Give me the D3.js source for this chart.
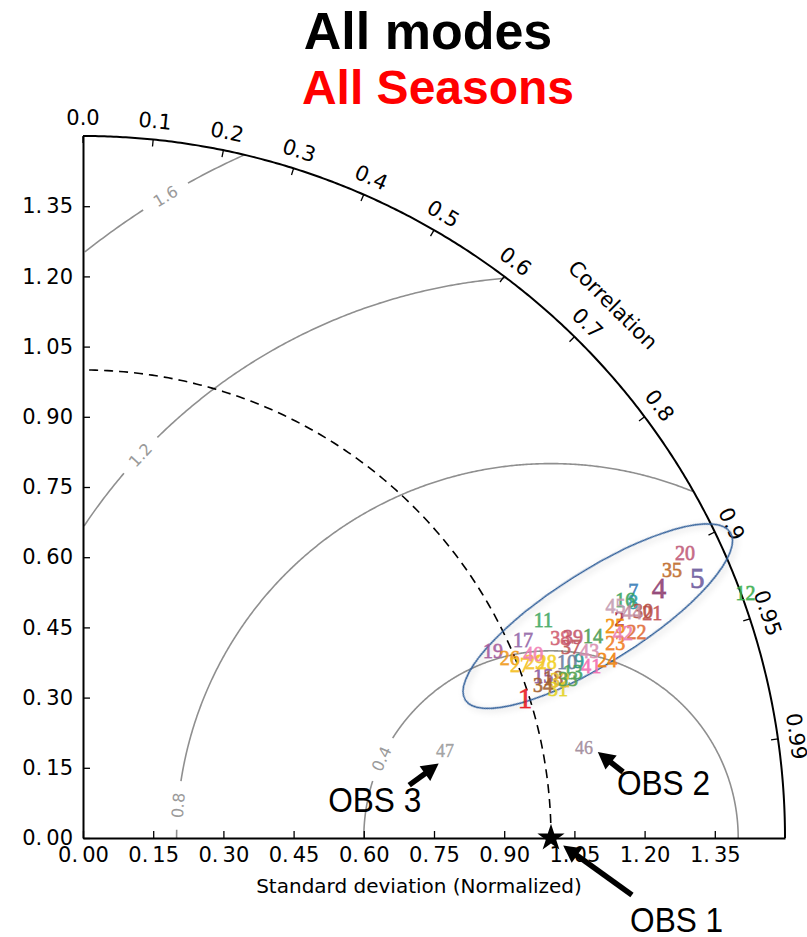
<!DOCTYPE html>
<html>
<head>
<meta charset="utf-8">
<script src="https://cdn.jsdelivr.net/npm/d3@7"></script>
<style>
  body { margin: 0; background: #fff; }
</style>
</head>
<body>
<svg id="chart" width="807" height="937" font-family="DejaVu Sans, sans-serif"></svg>
<script>
// ---- data ----
const stdTicks = [0, 0.15, 0.30, 0.45, 0.60, 0.75, 0.90, 1.05, 1.20, 1.35];
const corrTicks = [0, 0.1, 0.2, 0.3, 0.4, 0.5, 0.6, 0.7, 0.8, 0.9, 0.95, 0.99];
const corrTickLabels = ["0.0", "0.1", "0.2", "0.3", "0.4", "0.5", "0.6", "0.7", "0.8", "0.9", "0.95", "0.99"];
const rmsLevels = [0.4, 0.8, 1.2, 1.6];
const rmsLabels = ["0.4", "0.8", "1.2", "1.6"];

// model runs: id, normalized standard deviation, correlation with OBS 1
const modelIds  = [1, 2, 4, 5, 7, 8, 9, 10, 11, 12, 13, 14, 15, 16, 17, 18, 19, 20, 21, 22, 23, 24,
                   25, 26, 27, 28, 29, 30, 31, 32, 33, 34, 35, 37, 38, 39, 40, 41, 42, 43, 44, 45];
const modelStd  = [0.991, 1.238, 1.342, 1.425, 1.289, 1.279, 1.125, 1.100, 1.088, 1.509, 1.105, 1.172,
                   1.043, 1.265, 1.031, 1.061, 0.963, 1.423, 1.308, 1.262, 1.211, 1.183, 1.224, 0.990,
                   1.004, 1.060, 1.036, 1.291, 1.064, 1.074, 1.091, 1.036, 1.383, 1.120, 1.106, 1.132,
                   1.039, 1.147, 1.234, 1.153, 1.269, 1.241];
const modelCorr = [0.953, 0.926, 0.917, 0.921, 0.912, 0.919, 0.942, 0.940, 0.904, 0.938, 0.947, 0.930,
                   0.943, 0.916, 0.912, 0.947, 0.910, 0.904, 0.930, 0.937, 0.939, 0.947, 0.929, 0.921,
                   0.930, 0.935, 0.932, 0.927, 0.954, 0.949, 0.950, 0.949, 0.910, 0.931, 0.922, 0.925,
                   0.926, 0.947, 0.935, 0.938, 0.925, 0.917];

// other observational datasets compared with OBS 1
const obsIds  = [46, 47];
const obsStd  = [1.088, 0.796];
const obsCorr = [0.984, 0.972];

// ---- styles ----
const modelColors = {
  1: "#e8141e", 2: "#a3203c", 4: "#8c3a6e", 5: "#6b5a9c", 7: "#3a7db8", 8: "#2a98a4", 9: "#25918a",
  10: "#6b7c9c", 11: "#43a862", 12: "#38ad4c", 13: "#3ea35e", 14: "#4c9c52", 15: "#8a5aa0",
  16: "#3aa560", 17: "#9468a8", 18: "#a0563a", 19: "#a45a9c", 20: "#c05a78", 21: "#c24e4e",
  22: "#e06a36", 23: "#f07c1e", 24: "#f08006", 25: "#f28c00", 26: "#f09a1a", 27: "#f4be1e",
  28: "#f2d01e", 29: "#f4c42a", 30: "#b44c40", 31: "#e4d21e", 32: "#eac22e", 33: "#56a04e",
  34: "#a2602e", 35: "#c06c2c", 37: "#c0585a", 38: "#d05e70", 39: "#c4566a", 40: "#f27eb4",
  41: "#f26cb0", 42: "#ea7eb2", 43: "#d88eb0", 44: "#c28ea2", 45: "#c49cb2",
  46: "#a08898", 47: "#9a9a9a"
};
const largeIds = new Set([1, 4, 5]);
const sansFont = "Liberation Sans, Arial, sans-serif";
const serifFont = "Liberation Serif, serif";

// ---- geometry ----
const svg = d3.select("#chart");
const x = d3.scaleLinear().domain([0, 1.5]).range([83, 785]);
const y = d3.scaleLinear().domain([0, 1.5]).range([838, 136]);
const pxPerUnit = x(1) - x(0);
const toXY = (s, c) => [s * c, s * Math.sqrt(Math.max(0, 1 - c * c))];
const maxStd = 1.5;

// ---- centred RMS difference contours ----
const rmsLabelAngle = {0.4: 155, 0.8: 175, 1.2: 137, 1.6: 121};
const gapPx = 46;
const line = d3.line().x(d => x(d[0])).y(d => y(d[1]));
const contourG = svg.append("g");
rmsLevels.forEach((r, i) => {
  const la = rmsLabelAngle[r] * Math.PI / 180;
  const gap = gapPx / (r * pxPerUnit);
  const segs = [[]];
  for (let a = 0; a <= Math.PI + 1e-9; a += Math.PI / 720) {
    const px = 1 + r * Math.cos(a), py = r * Math.sin(a);
    const inside = px >= 0 && Math.hypot(px, py) <= maxStd && Math.abs(a - la) > gap / 2;
    if (inside) segs[segs.length - 1].push([px, py]);
    else if (segs[segs.length - 1].length) segs.push([]);
  }
  segs.filter(s => s.length > 1).forEach(s => {
    contourG.append("path").attr("d", line(s))
      .attr("fill", "none").attr("stroke", "#8f8f8f").attr("stroke-width", 1.6);
  });
  const lx = x(1 + r * Math.cos(la)), ly = y(r * Math.sin(la));
  contourG.append("text")
    .attr("transform", `translate(${lx},${ly}) rotate(${90 - rmsLabelAngle[r]})`)
    .attr("text-anchor", "middle").attr("dy", "0.36em")
    .attr("font-size", 16).attr("fill", "#9a9a9a")
    .text(rmsLabels[i]);
});

// ---- reference standard deviation (dashed) ----
const refArc = d3.range(0, 90.01, 0.5).map(d => toXY(1, Math.cos(d * Math.PI / 180)));
svg.append("path").attr("d", line(refArc))
  .attr("fill", "none").attr("stroke", "#000").attr("stroke-width", 1.6)
  .attr("stroke-dasharray", "9,6");

// ---- standard deviation axes ----
const xAxis = svg.append("g").attr("transform", `translate(0,${y(0)})`)
  .call(d3.axisBottom(x).tickValues(stdTicks).tickSizeInner(-7).tickSizeOuter(0)
    .tickPadding(9).tickFormat(d3.format(".2f")));
const yAxis = svg.append("g").attr("transform", `translate(${x(0)},0)`)
  .call(d3.axisLeft(y).tickValues(stdTicks).tickSizeInner(-7).tickSizeOuter(0)
    .tickPadding(10).tickFormat(d3.format(".2f")));
[xAxis, yAxis].forEach(g => {
  g.attr("font-family", "DejaVu Sans, sans-serif");
  g.select(".domain").attr("stroke", "#000").attr("stroke-width", 2);
  g.selectAll(".tick line").attr("stroke", "#000").attr("stroke-width", 1.3);
  g.selectAll(".tick text").attr("font-size", 21).attr("fill", "#000")
    .each(function (d) {
      const t = d3.select(this), s = d3.format(".2f")(d).split(".");
      t.text(null);
      t.append("tspan").text(s[0] + ".");
      t.append("tspan").attr("dx", 4).text(s[1]);
    });
});

// ---- correlation arc ----
const outer = d3.range(0, 90.01, 0.25).map(d => toXY(maxStd, Math.cos(d * Math.PI / 180)));
svg.append("path").attr("d", line(outer))
  .attr("fill", "none").attr("stroke", "#000").attr("stroke-width", 2);
const corrG = svg.append("g");
corrTicks.forEach((c, i) => {
  const th = Math.acos(c);
  const [ox, oy] = toXY(maxStd, c);
  const R = maxStd * pxPerUnit;
  const ux = Math.cos(th), uy = -Math.sin(th);
  corrG.append("line")
    .attr("x1", x(ox)).attr("y1", y(oy))
    .attr("x2", x(ox) - 7 * ux).attr("y2", y(oy) - 7 * uy)
    .attr("stroke", "#000").attr("stroke-width", 1.3);
  const lr = R + 19;
  corrG.append("text")
    .attr("transform", `translate(${x(0) + lr * ux},${y(0) + lr * uy}) rotate(${90 - th * 180 / Math.PI})`)
    .attr("text-anchor", "middle").attr("dy", "0.36em")
    .attr("font-size", 21).attr("fill", "#000")
    .text(corrTickLabels[i]);
});
{
  const th = Math.acos(0.705);
  const lr = maxStd * pxPerUnit + 50;
  corrG.append("text")
    .attr("transform", `translate(${x(0) + lr * Math.cos(th)},${y(0) - lr * Math.sin(th)}) rotate(${90 - th * 180 / Math.PI})`)
    .attr("text-anchor", "middle").attr("dy", "0.36em")
    .attr("font-size", 21).attr("fill", "#000")
    .text("Correlation");
}

svg.append("text").attr("x", 419).attr("y", 893)
  .attr("text-anchor", "middle").attr("font-size", 20).attr("fill", "#000")
  .text("Standard deviation (Normalized)");

// ---- highlighted cluster of model runs ----
const cluster = [{cx: 1.100, cy: 0.474, a: 0.335, b: 0.098, tilt: 32.3}];
const defs = svg.append("defs");
const f = defs.append("filter").attr("id", "soft").attr("x", "-20%").attr("y", "-20%")
  .attr("width", "140%").attr("height", "140%");
f.append("feDropShadow").attr("dx", 1.5).attr("dy", 3).attr("stdDeviation", 3)
  .attr("flood-color", "#000").attr("flood-opacity", 0.22);
svg.append("g").selectAll("ellipse").data(cluster).join("ellipse")
  .attr("transform", d => `translate(${x(d.cx)},${y(d.cy)}) rotate(${-d.tilt})`)
  .attr("rx", d => d.a * pxPerUnit).attr("ry", d => d.b * pxPerUnit)
  .attr("fill", "none").attr("stroke", "#2f5d98").attr("stroke-width", 1.5)
  .attr("filter", "url(#soft)");

// ---- model and observation markers ----
const points = modelIds.map((id, i) => ({id, s: modelStd[i], c: modelCorr[i]}))
  .concat(obsIds.map((id, i) => ({id, s: obsStd[i], c: obsCorr[i]})));
svg.append("g").attr("font-family", serifFont)
  .selectAll("text").data(points).join("text")
  .attr("x", d => x(toXY(d.s, d.c)[0]))
  .attr("y", d => y(toXY(d.s, d.c)[1]))
  .attr("dy", "0.35em").attr("text-anchor", "middle")
  .attr("font-size", d => largeIds.has(d.id) ? 29 : (d.id >= 46 ? 18 : 20))
  .attr("fill", d => modelColors[d.id])
  .attr("fill-opacity", d => d.id >= 46 ? 0.9 : 0.85)
  .attr("stroke", d => modelColors[d.id]).attr("stroke-width", d => d.id >= 46 ? 0.5 : 0.9)
  .attr("stroke-opacity", 0.7)
  .text(d => d.id);

// reference observation (OBS 1)
svg.append("path")
  .attr("transform", `translate(${x(1)},${y(0)})`)
  .attr("d", d3.symbol(d3.symbolStar, 230)())
  .attr("fill", "#000");

// ---- annotations ----
const notes = [
  {label: "OBS 1", tx: 1.169, ty: -0.201, x0: 1.173, y0: -0.122, x1: 1.026, y1: -0.016},
  {label: "OBS 2", tx: 1.141, ty: 0.092, x0: 1.154, y0: 0.141, x1: 1.100, y1: 0.184},
  {label: "OBS 3", tx: 0.524, ty: 0.056, x0: 0.697, y0: 0.113, x1: 0.760, y1: 0.159}
];
const noteG = svg.append("g").attr("font-family", sansFont);
notes.forEach(n => {
  const ax = x(n.x0), ay = y(n.y0), bx = x(n.x1), by = y(n.y1);
  const len = Math.hypot(bx - ax, by - ay), ux = (bx - ax) / len, uy = (by - ay) / len;
  const hl = 17, hw = 9;
  const sx = bx - ux * hl, sy = by - uy * hl;
  noteG.append("line").attr("x1", ax).attr("y1", ay).attr("x2", sx + ux * 2).attr("y2", sy + uy * 2)
    .attr("stroke", "#000").attr("stroke-width", 5.5);
  noteG.append("path")
    .attr("d", `M${bx},${by}L${sx - uy * hw},${sy + ux * hw}L${sx + uy * hw},${sy - ux * hw}Z`)
    .attr("fill", "#000");
  noteG.append("text").attr("x", x(n.tx)).attr("y", y(n.ty))
    .attr("font-size", 35).attr("textLength", 93).attr("lengthAdjust", "spacingAndGlyphs")
    .attr("fill", "#000").text(n.label);
});

// ---- titles ----
const titleG = svg.append("g").attr("font-family", sansFont).attr("font-weight", "bold")
  .attr("text-anchor", "middle");
titleG.append("text").attr("x", 428).attr("y", 49)
  .attr("font-size", 52).attr("fill", "#000").text("All modes");
titleG.append("text").attr("x", 438).attr("y", 104)
  .attr("font-size", 48).attr("fill", "#ff0000").text("All Seasons");
</script>
</body>
</html>
